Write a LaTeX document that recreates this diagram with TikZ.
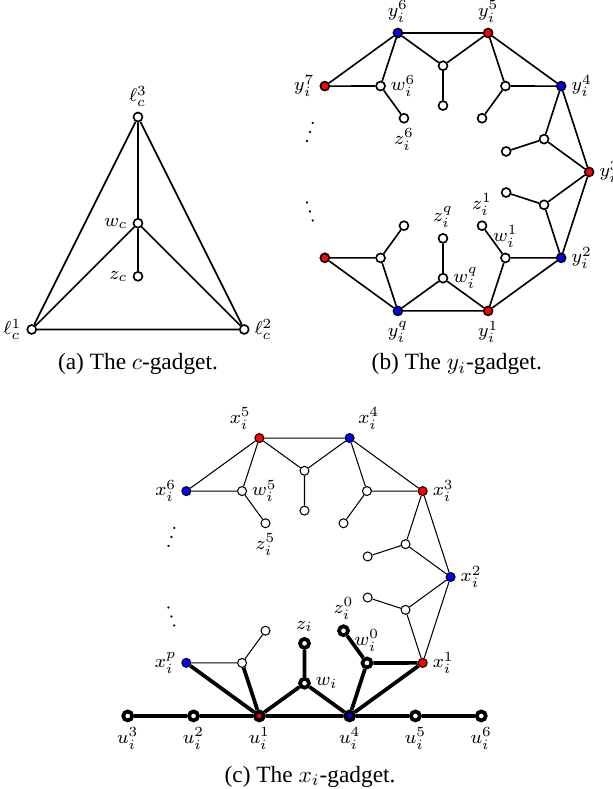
\documentclass[tikz,border=0pt]{standalone}
\usepackage{amsmath,amssymb}
\usepackage[no-math]{fontspec}
\setmainfont{Liberation Serif}
\usepackage{tikz}
\usetikzlibrary{positioning, calc}
\definecolor{redside}{RGB}{255,0,0}
\definecolor{blueside}{RGB}{0,0,255}
\tikzset{
  vertex/.style={
    circle, draw, fill=white, line width=0.7pt,
    minimum size=0.135cm, inner sep=0pt
  },
  rvertex/.style={vertex, fill=redside},
  bvertex/.style={vertex, fill=blueside},
  heavy/.style={line width=1.6pt},
  light/.style={line width=0.45pt},
  gadget edge/.style={line width=0.7pt},
  every label/.append style={font=\footnotesize, inner sep=2pt},
  caption/.style={anchor=base, inner sep=0pt},
  dotsnode/.style={font=\footnotesize, inner sep=0pt},
}

\begin{document}
\begin{tikzpicture}
  \useasboundingbox (0,0) rectangle (9.232,-11.883);

  % (a) the clause gadget
  \begin{scope}[shift={(2.078,-1.762)}]
    \node[vertex, label=above:$\ell_c^3$] (l3) at (0,0) {};
    \node[vertex, label=left:$w_c$] (wc) at (0,-1.6) {};
    \node[vertex, label=left:$z_c$] (zc) at (0,-2.4) {};
    \node[vertex, label=left:$\ell_c^1$] (l1) at (-1.6,-3.2) {};
    \node[vertex, label=right:$\ell_c^2$] (l2) at (1.6,-3.2) {};
    \draw[gadget edge] (l1) -- (l3) -- (l2) -- (l1)
      (l3) -- (wc) -- (zc) (l1) -- (wc) -- (l2);
  \end{scope}
  \node[caption] (capa) at (2.078,-5.57) {(a) The $c$-gadget.};

  % (b) the y_i gadget
  \begin{scope}[shift={(6.672,-2.590)}]
    \node[bvertex, label=above:$y_i^6$] (y6) at (108:2.2) {};
    \node[rvertex, label=above:$y_i^5$] (y5) at (72:2.2) {};
    \node[bvertex, label=right:$y_i^4$] (y4) at (36:2.2) {};
    \node[rvertex, label=right:$y_i^3$] (y3) at (0:2.2) {};
    \node[bvertex, label=right:$y_i^2$] (y2) at (-36:2.2) {};
    \node[rvertex, label=below:$y_i^1$] (y1) at (-72:2.2) {};
    \node[bvertex, label=below:$y_i^q$] (yq) at (-108:2.2) {};
    \node[rvertex] (yr) at (-144:2.2) {};
    \node[rvertex, label=left:$y_i^7$] (y7) at (144:2.2) {};
    % middle vertices
    \node[vertex] (wa) at (90:1.6) {};
    \node[vertex] (wb) at (54:1.6) {};
    \node[vertex] (wd) at (18:1.6) {};
    \node[vertex] (we) at (-18:1.6) {};
    \node[vertex, label=above:$w_i^1$] (w1) at (-54:1.6) {};
    \node[vertex, label=right:$w_i^q$] (wq) at (-90:1.6) {};
    \node[vertex] (wr) at (-126:1.6) {};
    \node[vertex, label=right:$w_i^6$] (w6) at (126:1.6) {};
    % pendant vertices
    \node[vertex] (za) at (90:1) {};
    \node[vertex] (zb) at (54:1) {};
    \node[vertex] (zd) at (18:1) {};
    \node[vertex] (ze) at (-18:1) {};
    \node[vertex, label=above:$z_i^1$] (z1) at (-54:1) {};
    \node[vertex, label=above:$z_i^q$] (zq) at (-90:1) {};
    \node[vertex] (zr) at (-126:1) {};
    \node[vertex, label=below:$z_i^6$] (z6) at (126:1) {};
    \node[dotsnode, rotate=-18] (dy1) at (-1.97,0.70) {$\vdots$};
    \node[dotsnode, rotate=18] (dy2) at (-2.035,-0.50) {$\vdots$};
    \draw[gadget edge] (y7) -- (y6) -- (y5) -- (y4) -- (y3) -- (y2) -- (y1) -- (yq) -- (yr)
      (y6) -- (wa) -- (y5) (wa) -- (za)
      (y5) -- (wb) -- (y4) (wb) -- (zb)
      (y4) -- (wd) -- (y3) (wd) -- (zd)
      (y3) -- (we) -- (y2) (we) -- (ze)
      (y2) -- (w1) -- (y1) (w1) -- (z1)
      (y1) -- (wq) -- (yq) (wq) -- (zq)
      (yq) -- (wr) -- (yr) (wr) -- (zr)
      (y7) -- (w6) -- (y6) (w6) -- (z6);
  \end{scope}
  \node[caption] (capb) at (6.88,-5.57) {(b) The $y_i$-gadget.};

  % (c) the x_i gadget
  \begin{scope}[shift={(4.586,-8.690)}, vertex/.append style={line width=0.45pt}]
    \node[rvertex, label={above left:$x_i^5$}] (x5) at (108:2.2) {};
    \node[bvertex, label={above right:$x_i^4$}] (x4) at (72:2.2) {};
    \node[rvertex, label=right:$x_i^3$] (x3) at (36:2.2) {};
    \node[bvertex, label=right:$x_i^2$] (x2) at (0:2.2) {};
    \node[rvertex, label=right:$x_i^1$] (x1) at (-36:2.2) {};
    \node[bvertex, heavy, label=below:$u_i^4$] (u4) at (-72:2.2) {};
    \node[rvertex, heavy, label=below:$u_i^1$] (u1) at (-108:2.2) {};
    \node[bvertex, label=left:$x_i^p$] (xp) at (-144:2.2) {};
    \node[bvertex, label=left:$x_i^6$] (x6) at (144:2.2) {};
    \node[vertex, heavy, label=below:$u_i^2$, left=8mm of u1, on grid] (u2) {};
    \node[vertex, heavy, label=below:$u_i^3$, left=8mm of u2, on grid] (u3) {};
    \node[vertex, heavy, label=below:$u_i^5$, right=8mm of u4, on grid] (u5) {};
    \node[vertex, heavy, label=below:$u_i^6$, right=8mm of u5, on grid] (u6) {};
    % middle vertices
    \node[vertex] (va) at (90:1.6) {};
    \node[vertex] (vb) at (54:1.6) {};
    \node[vertex] (vd) at (18:1.6) {};
    \node[vertex] (ve) at (-18:1.6) {};
    \node[vertex, heavy, label=above:$w_i^0$] (w0) at (-54:1.6) {};
    \node[vertex, heavy, label=right:$w_i$] (wi) at (-90:1.6) {};
    \node[vertex] (vp) at (-126:1.6) {};
    \node[vertex, label=right:$w_i^5$] (w5) at (126:1.6) {};
    % pendant vertices
    \node[vertex] (ta) at (90:1) {};
    \node[vertex] (tb) at (54:1) {};
    \node[vertex] (td) at (18:1) {};
    \node[vertex] (te) at (-18:1) {};
    \node[vertex, heavy, label=above:$z_i^0$] (z0) at (-54:1) {};
    \node[vertex, heavy, label=above:$z_i$] (zi) at (-90:1) {};
    \node[vertex] (tp) at (-126:1) {};
    \node[vertex, label=below:$z_i^5$] (z5) at (126:1) {};
    \node[dotsnode, rotate=-18] (dx1) at (-1.97,0.70) {$\vdots$};
    \node[dotsnode, rotate=18] (dx2) at (-2.035,-0.50) {$\vdots$};
    \draw[light] (x6) -- (x5) -- (x4) -- (x3) -- (x2) -- (x1)
      (x5) -- (va) -- (x4) (va) -- (ta)
      (x4) -- (vb) -- (x3) (vb) -- (tb)
      (x3) -- (vd) -- (x2) (vd) -- (td)
      (x2) -- (ve) -- (x1) (ve) -- (te)
      (xp) -- (vp) -- (tp)
      (x6) -- (w5) -- (x5) (w5) -- (z5);
    \draw[heavy] (u3) -- (u2) -- (u1) -- (u4) -- (u5) -- (u6)
      (xp) -- (u1) -- (vp) (u1) -- (wi) -- (u4) (wi) -- (zi)
      (u4) -- (w0) -- (x1) (u4) -- (x1) (w0) -- (z0);
  \end{scope}
  \node[caption] (capc) at (4.67,-11.78) {(c) The $x_i$-gadget.};
\end{tikzpicture}
\end{document}
